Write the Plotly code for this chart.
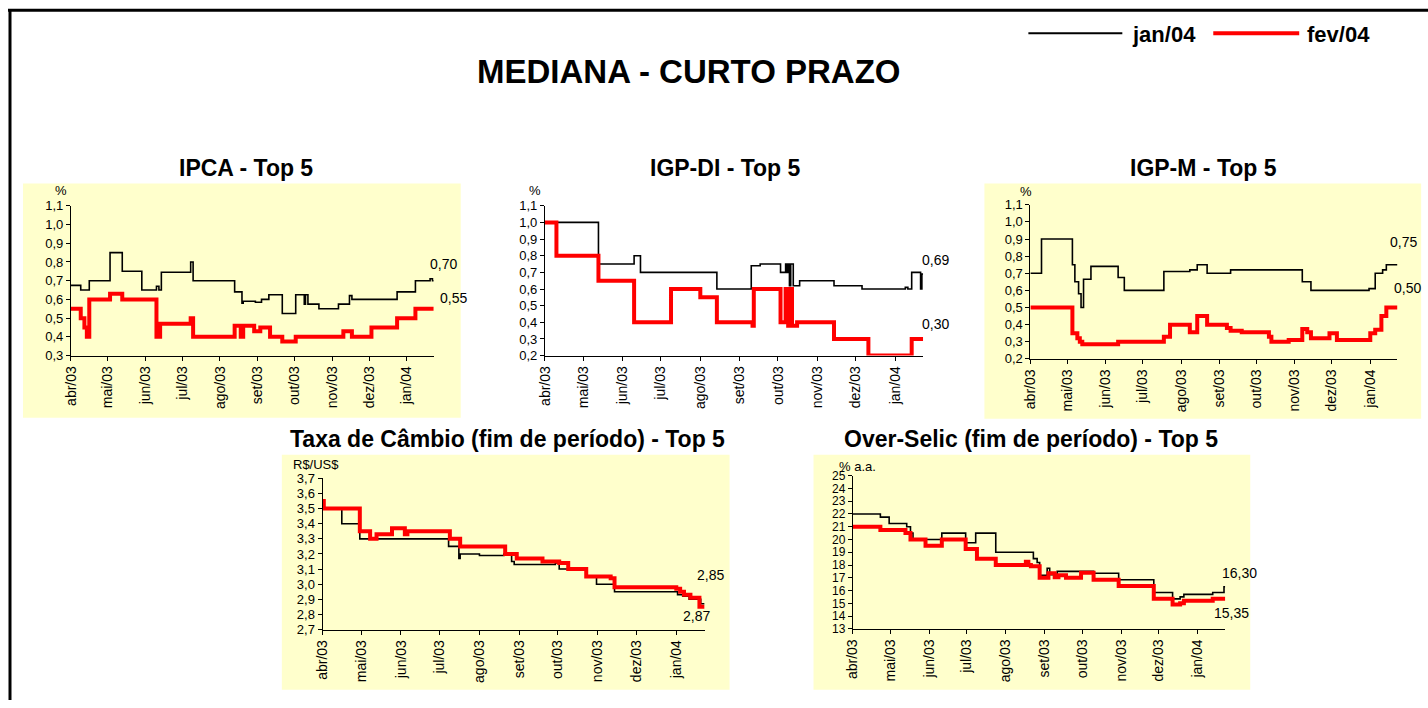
import plotly.graph_objects as go

# ---------------- data ----------------
month_ticks = ["2003-04-01", "2003-05-01", "2003-06-01", "2003-07-01", "2003-08-01",
               "2003-09-01", "2003-10-01", "2003-11-01", "2003-12-01", "2004-01-01"]
month_labels = ["abr/03", "mai/03", "jun/03", "jul/03", "ago/03",
                "set/03", "out/03", "nov/03", "dez/03", "jan/04"]
series_names = ["jan/04", "fev/04"]

ipca_jan_dates = ["2003-04-01", "2003-04-09", "2003-04-16", "2003-05-03", "2003-05-13", "2003-05-29",
                  "2003-06-10", "2003-06-12", "2003-06-14", "2003-07-08", "2003-07-10", "2003-08-13",
                  "2003-08-19", "2003-08-20", "2003-08-30", "2003-09-04", "2003-09-10", "2003-09-21",
                  "2003-10-02", "2003-10-09", "2003-10-10", "2003-10-12", "2003-10-21", "2003-11-06",
                  "2003-11-15", "2003-11-17", "2003-12-24", "2004-01-08", "2004-01-20", "2004-01-22",
                  "2004-01-23"]
ipca_jan = [0.675, 0.65, 0.70, 0.85, 0.75, 0.65, 0.67, 0.65, 0.745, 0.80, 0.70, 0.64, 0.58, 0.59,
            0.585, 0.60, 0.625, 0.525, 0.625, 0.575, 0.625, 0.575, 0.55, 0.575, 0.62, 0.60, 0.64,
            0.70, 0.71, 0.70, 0.70]
ipca_fev_dates = ["2003-04-01", "2003-04-09", "2003-04-12", "2003-04-14", "2003-04-16", "2003-05-03",
                  "2003-05-13", "2003-06-10", "2003-06-13", "2003-07-08", "2003-07-10", "2003-08-13",
                  "2003-08-18", "2003-08-20", "2003-08-29", "2003-09-03", "2003-09-11", "2003-09-21",
                  "2003-10-02", "2003-11-10", "2003-11-17", "2003-12-03", "2003-12-24", "2004-01-08",
                  "2004-01-23"]
ipca_fev = [0.55, 0.50, 0.45, 0.40, 0.60, 0.63, 0.60, 0.40, 0.47, 0.50, 0.40, 0.46, 0.40, 0.46,
            0.43, 0.45, 0.40, 0.375, 0.40, 0.43, 0.40, 0.45, 0.50, 0.55, 0.55]

igpdi_jan_dates = ["2003-04-01", "2003-05-13", "2003-06-10", "2003-06-15", "2003-08-14", "2003-09-10",
                   "2003-09-17", "2003-10-03", "2003-10-07", "2003-10-08", "2003-10-09", "2003-10-10",
                   "2003-10-11", "2003-10-13", "2003-10-18", "2003-11-14", "2003-12-06", "2004-01-09",
                   "2004-01-11", "2004-01-14", "2004-01-21", "2004-01-22", "2004-01-23"]
igpdi_jan = [1.00, 0.75, 0.80, 0.70, 0.60, 0.74, 0.75, 0.70, 0.75, 0.70, 0.75, 0.62, 0.75, 0.62,
             0.65, 0.62, 0.60, 0.61, 0.60, 0.70, 0.60, 0.69, 0.69]
igpdi_fev_dates = ["2003-04-01", "2003-04-10", "2003-05-13", "2003-06-10", "2003-07-09", "2003-08-01",
                   "2003-08-14", "2003-09-11", "2003-09-12", "2003-10-03", "2003-10-07", "2003-10-09",
                   "2003-10-10", "2003-10-12", "2003-10-16", "2003-11-14", "2003-12-11", "2004-01-14",
                   "2004-01-23"]
igpdi_fev = [1.00, 0.80, 0.65, 0.40, 0.60, 0.55, 0.40, 0.38, 0.60, 0.40, 0.60, 0.38, 0.60, 0.38,
             0.40, 0.30, 0.20, 0.30, 0.30]

igpm_jan_dates = ["2003-04-01", "2003-04-10", "2003-05-05", "2003-05-07", "2003-05-10", "2003-05-12",
                  "2003-05-14", "2003-05-20", "2003-06-11", "2003-06-16", "2003-07-18", "2003-08-08",
                  "2003-08-14", "2003-08-22", "2003-09-10", "2003-11-07", "2003-11-14", "2003-12-31",
                  "2004-01-05", "2004-01-11", "2004-01-14", "2004-01-23"]
igpm_jan = [0.70, 0.90, 0.75, 0.65, 0.58, 0.50, 0.665, 0.74, 0.675, 0.60, 0.71, 0.72, 0.75, 0.70,
            0.72, 0.65, 0.60, 0.61, 0.70, 0.72, 0.75, 0.75]
igpm_fev_dates = ["2003-04-01", "2003-05-05", "2003-05-09", "2003-05-11", "2003-05-13", "2003-06-11",
                  "2003-07-18", "2003-07-23", "2003-08-08", "2003-08-14", "2003-08-22", "2003-09-07",
                  "2003-09-10", "2003-09-19", "2003-10-11", "2003-10-13", "2003-10-27", "2003-11-07",
                  "2003-11-11", "2003-11-14", "2003-11-29", "2003-12-05", "2004-01-01", "2004-01-05",
                  "2004-01-10", "2004-01-14", "2004-01-23"]
igpm_fev = [0.50, 0.35, 0.32, 0.30, 0.285, 0.30, 0.33, 0.40, 0.355, 0.45, 0.40, 0.38, 0.365, 0.355,
            0.33, 0.30, 0.31, 0.375, 0.355, 0.32, 0.35, 0.31, 0.35, 0.37, 0.45, 0.50, 0.50]

cambio_jan_dates = ["2003-04-01", "2003-04-16", "2003-04-30", "2003-07-08", "2003-07-16", "2003-07-17",
                    "2003-08-01", "2003-08-20", "2003-08-26", "2003-08-28", "2003-09-29", "2003-10-02",
                    "2003-10-23", "2003-10-31", "2003-11-14", "2004-01-02", "2004-01-06", "2004-01-11",
                    "2004-01-20", "2004-01-23"]
cambio_jan = [3.50, 3.40, 3.30, 3.25, 3.17, 3.20, 3.19, 3.20, 3.15, 3.13, 3.14, 3.10, 3.05, 3.00,
              2.95, 2.93, 2.92, 2.90, 2.87, 2.87]
cambio_fev_dates = ["2003-04-01", "2003-04-02", "2003-04-30", "2003-05-08", "2003-05-13", "2003-05-25",
                    "2003-06-04", "2003-06-06", "2003-07-09", "2003-07-17", "2003-08-21", "2003-08-30",
                    "2003-09-19", "2003-10-02", "2003-10-09", "2003-10-23", "2003-11-11", "2003-11-14",
                    "2004-01-01", "2004-01-04", "2004-01-07", "2004-01-12", "2004-01-19", "2004-01-23"]
cambio_fev = [3.55, 3.50, 3.35, 3.30, 3.33, 3.37, 3.33, 3.35, 3.30, 3.25, 3.20, 3.17, 3.15, 3.14,
              3.10, 3.05, 3.04, 2.98, 2.97, 2.95, 2.93, 2.91, 2.85, 2.85]

selic_jan_dates = ["2003-04-01", "2003-04-23", "2003-04-30", "2003-05-14", "2003-05-17", "2003-05-19",
                   "2003-06-11", "2003-06-30", "2003-07-08", "2003-07-24", "2003-08-23", "2003-08-26",
                   "2003-08-28", "2003-09-03", "2003-09-05", "2003-09-11", "2003-10-10", "2003-10-30",
                   "2003-11-27", "2003-12-12", "2003-12-18", "2003-12-21", "2004-01-13", "2004-01-22",
                   "2004-01-23"]
selic_jan = [22.0, 21.75, 21.25, 21.0, 20.5, 20.0, 20.5, 19.75, 20.5, 19.0, 18.5, 18.2, 17.2, 17.75,
             17.25, 17.5, 17.35, 16.85, 15.85, 15.35, 15.5, 15.7, 15.85, 16.3, 16.3]
selic_fev_dates = ["2003-04-01", "2003-04-23", "2003-05-13", "2003-05-17", "2003-05-29", "2003-06-11",
                   "2003-06-30", "2003-07-09", "2003-07-24", "2003-08-17", "2003-08-19", "2003-08-21",
                   "2003-08-28", "2003-09-04", "2003-09-09", "2003-09-12", "2003-09-18", "2003-09-30",
                   "2003-10-10", "2003-10-30", "2003-11-27", "2003-12-12", "2003-12-18", "2003-12-21",
                   "2004-01-13", "2004-01-23"]
selic_fev = [21.0, 20.75, 20.5, 20.0, 19.5, 20.0, 19.25, 18.5, 18.0, 18.25, 18.0, 17.9, 17.0, 17.35,
             17.05, 17.2, 17.0, 17.4, 16.85, 16.35, 15.35, 14.9, 15.0, 15.2, 15.35, 15.35]

panel_titles = ["IPCA - Top 5", "IGP-DI - Top 5", "IGP-M - Top 5",
                "Taxa de Câmbio (fim de período) - Top 5", "Over-Selic (fim de período) - Top 5"]
unit_labels = ["%", "%", "%", "R$/US$", "% a.a."]
end_labels = [("0,70", "0,55"), ("0,69", "0,30"), ("0,75", "0,50"), ("2,85", "2,87"), ("16,30", "15,35")]

# ---------------- layout helpers ----------------
W, H = 1428, 708
# small calibration between layout pixels and the photographed picture
AX, SX = 7.0, 0.995
AY, SY = 5.7, 0.978
FONT = "Arial, Liberation Sans, sans-serif"
BLACK, RED, YELLOW = "#000000", "#FF0000", "#FFFFCC"


def fx(p):
    return ((p - AX) / SX) / W


def fy(p):
    return 1 - ((p - AY) / SY) / H


panels = [
    dict(data=(ipca_jan_dates, ipca_jan, ipca_fev_dates, ipca_fev), xd=(70, 433), yd=(204.3, 354),
         yr=(0.3, 1.1), dt=0.1, fmt=".1f", fs=13, bg=(22, 182, 460, 416),
         title=(245, 167), unit=(60, 189), ends=((443, 262), (453, 296))),
    dict(data=(igpdi_jan_dates, igpdi_jan, igpdi_fev_dates, igpdi_fev), xd=(544.3, 922.7), yd=(204.3, 354),
         yr=(0.2, 1.1), dt=0.1, fmt=".1f", fs=13, bg=None,
         title=(725, 167), unit=(534, 189), ends=((935, 258), (935, 322))),
    dict(data=(igpm_jan_dates, igpm_jan, igpm_fev_dates, igpm_fev), xd=(1030, 1397.3), yd=(203.3, 357.3),
         yr=(0.2, 1.1), dt=0.1, fmt=".1f", fs=13, bg=(984, 182, 1421, 417),
         title=(1203, 167), unit=(1026, 190), ends=((1403, 241), (1407, 286))),
    dict(data=(cambio_jan_dates, cambio_jan, cambio_fev_dates, cambio_fev), xd=(321.7, 704), yd=(476.7, 627.7),
         yr=(2.7, 3.7), dt=0.1, fmt=".1f", fs=13, bg=(281, 453, 729, 688),
         title=(507, 437), unit=(315, 463), ends=((710, 573), (696, 614))),
    dict(data=(selic_jan_dates, selic_jan, selic_fev_dates, selic_fev), xd=(852.3, 1225), yd=(474, 627),
         yr=(13, 25), dt=1, fmt="d", fs=12, bg=(813, 453, 1250, 688),
         title=(1031, 437), unit=(857, 465), ends=((1239, 571), (1231, 611))),
]

fig = go.Figure()
shapes = []
annotations = []
layout_axes = {}

for i, p in enumerate(panels, start=1):
    xa = "x" if i == 1 else f"x{i}"
    ya = "y" if i == 1 else f"y{i}"
    d_jan, v_jan, d_fev, v_fev = p["data"]
    fig.add_trace(go.Scatter(x=d_jan, y=v_jan, mode="lines", name=series_names[0], showlegend=False,
                             line=dict(color=BLACK, width=1.6, shape="hv"), xaxis=xa, yaxis=ya))
    fig.add_trace(go.Scatter(x=d_fev, y=v_fev, mode="lines", name=series_names[1], showlegend=False,
                             line=dict(color=RED, width=4, shape="hv"), xaxis=xa, yaxis=ya))
    xkey = "xaxis" if i == 1 else f"xaxis{i}"
    ykey = "yaxis" if i == 1 else f"yaxis{i}"
    layout_axes[xkey] = dict(
        domain=[fx(p["xd"][0]), fx(p["xd"][1])], anchor=ya, type="date",
        range=["2003-04-01", "2004-01-23"], tickmode="array", tickvals=month_ticks, ticktext=month_labels,
        tickangle=-90, ticks="outside", ticklen=4, tickcolor=BLACK, showline=True, linecolor=BLACK,
        linewidth=1, showgrid=False, zeroline=False, tickfont=dict(family=FONT, size=14, color=BLACK))
    layout_axes[ykey] = dict(
        domain=[fy(p["yd"][1]), fy(p["yd"][0])], anchor=xa, range=list(p["yr"]), tick0=p["yr"][0],
        dtick=p["dt"], tickformat=p["fmt"], ticks="outside", ticklen=4, tickcolor=BLACK, showline=True,
        linecolor=BLACK, linewidth=1, showgrid=False, zeroline=False,
        tickfont=dict(family=FONT, size=p["fs"], color=BLACK))
    if p["bg"]:
        x0, y0, x1, y1 = p["bg"]
        shapes.append(dict(type="rect", xref="paper", yref="paper", x0=fx(x0), x1=fx(x1), y0=fy(y1),
                           y1=fy(y0), fillcolor=YELLOW, line=dict(width=0), layer="below"))
    tx, ty = p["title"]
    annotations.append(dict(text=f"<b>{panel_titles[i - 1]}</b>", x=fx(tx), y=fy(ty), xref="paper",
                            yref="paper", showarrow=False, xanchor="center", yanchor="middle",
                            font=dict(family=FONT, size=23, color=BLACK)))
    ux, uy = p["unit"]
    annotations.append(dict(text=unit_labels[i - 1], x=fx(ux), y=fy(uy), xref="paper", yref="paper",
                            showarrow=False, xanchor="center", yanchor="middle",
                            font=dict(family=FONT, size=13, color=BLACK)))
    for lab, (ex, ey) in zip(end_labels[i - 1], p["ends"]):
        annotations.append(dict(text=lab, x=fx(ex), y=fy(ey), xref="paper", yref="paper",
                                showarrow=False, xanchor="center", yanchor="middle",
                                font=dict(family=FONT, size=14, color=BLACK)))

# main title
annotations.append(dict(text="<b>MEDIANA - CURTO PRAZO</b>", x=fx(688), y=fy(70), xref="paper", yref="paper",
                        showarrow=False, xanchor="center", yanchor="middle",
                        font=dict(family=FONT, size=33, color=BLACK)))
# legend
shapes.append(dict(type="line", xref="paper", yref="paper", x0=fx(1028), x1=fx(1122), y0=fy(32), y1=fy(32),
                   line=dict(color=BLACK, width=2)))
shapes.append(dict(type="line", xref="paper", yref="paper", x0=fx(1213), x1=fx(1299), y0=fy(32), y1=fy(32),
                   line=dict(color=RED, width=4)))
for name, cx in zip(series_names, (1164, 1338)):
    annotations.append(dict(text=f"<b>{name}</b>", x=fx(cx), y=fy(33), xref="paper", yref="paper",
                            showarrow=False, xanchor="center", yanchor="middle",
                            font=dict(family=FONT, size=22, color=BLACK)))
# outer frame (top and left edges)
shapes.append(dict(type="line", xref="paper", yref="paper", x0=0, x1=1, y0=fy(9), y1=fy(9),
                   line=dict(color=BLACK, width=3), layer="above"))
shapes.append(dict(type="line", xref="paper", yref="paper", x0=fx(9), x1=fx(9), y0=0, y1=fy(9),
                   line=dict(color=BLACK, width=3), layer="above"))

fig.update_layout(width=W, height=H, margin=dict(l=0, r=0, t=0, b=0), paper_bgcolor="white",
                  plot_bgcolor="rgba(0,0,0,0)", separators=",.", showlegend=False,
                  font=dict(family=FONT, color=BLACK), shapes=shapes, annotations=annotations,
                  **layout_axes)

fig.write_html(
    "out.html",
    config={"displayModeBar": False},
    post_script="document.body.style.margin='0';document.body.style.padding='0';"
                "document.documentElement.style.overflow='hidden';document.body.style.overflow='hidden';",
)
